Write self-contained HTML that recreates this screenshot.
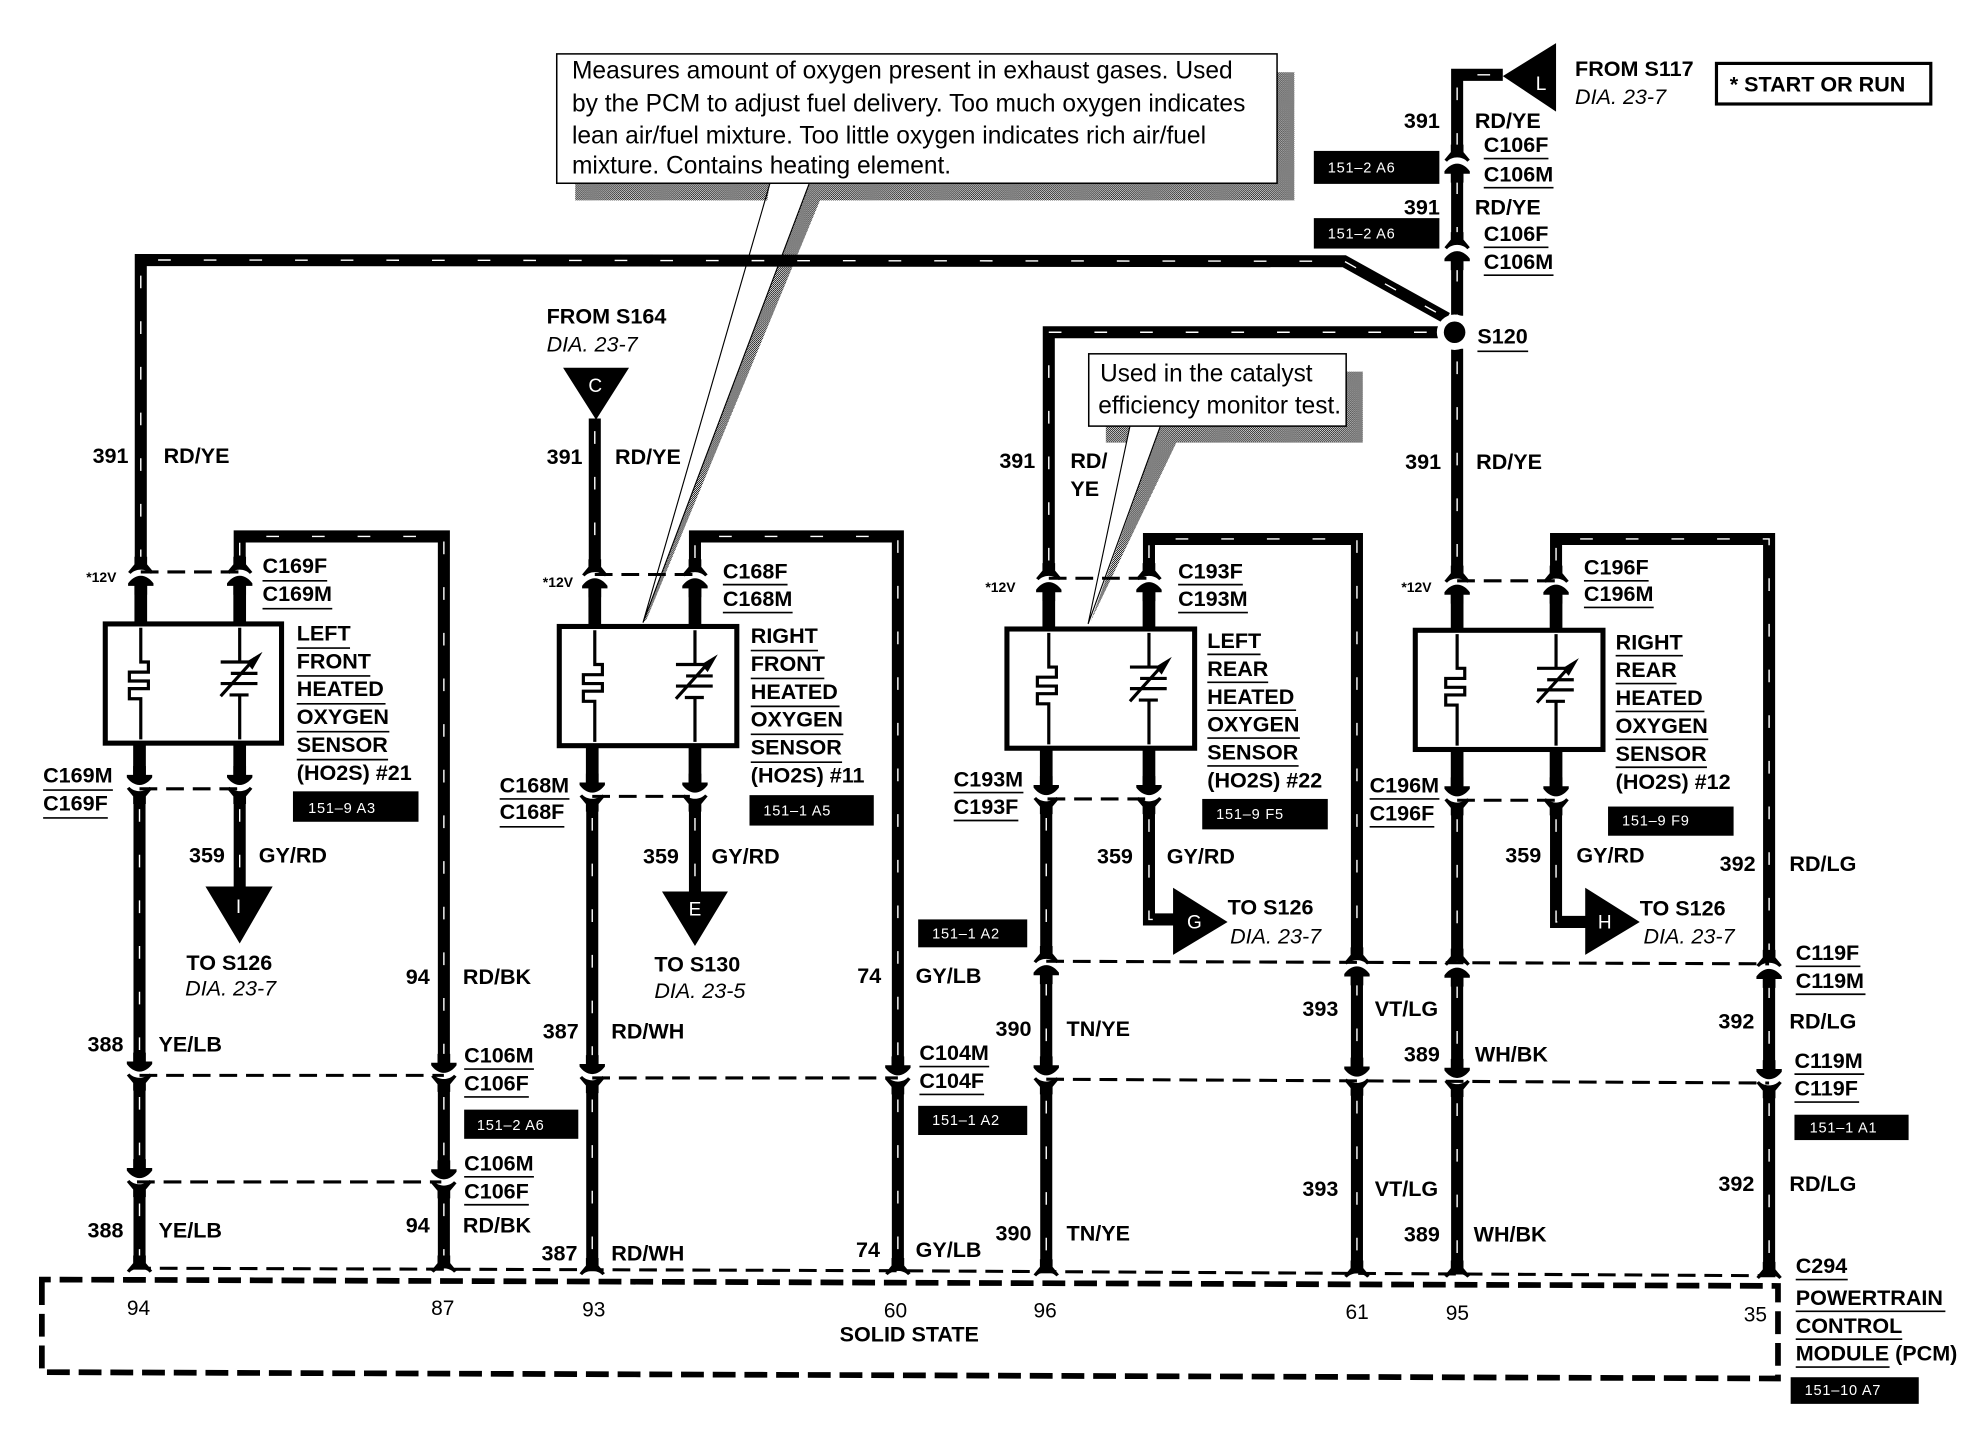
<!DOCTYPE html>
<html><head><meta charset="utf-8">
<style>
html,body{margin:0;padding:0;background:#fff}
svg{display:block}
text{font-family:"Liberation Sans",sans-serif;fill:#000}
.b{font-size:17px;font-weight:700}
.n{font-size:16.5px}
.i{font-size:17px;font-style:italic}
.c{font-size:20px}
.s{font-size:11px;font-weight:700}
.w{font-size:11.5px;fill:#fff;letter-spacing:.6px}
.l{font-size:15px;fill:#fff}
</style></head><body>
<svg width="1988" height="1440" viewBox="0 0 1567.6 1135.5" xmlns="http://www.w3.org/2000/svg">
<defs>
<pattern id="dith" width="1.6" height="1.6" patternUnits="userSpaceOnUse"><rect width="1.6" height="1.6" fill="#fff"/><rect width=".8" height=".8" fill="#000"/><rect x=".8" y=".8" width=".8" height=".8" fill="#000"/></pattern>
<g id="cup"><path d="M-10,0 L-5,-6 L-5,-12 L5,-12 L5,-6 L10,0 L8,1.5 C4,-3 -4,-3 -8,1.5 Z" fill="#000"/></g>
<g id="cu"><use href="#cup"/><path d="M0,3 C4,3 8,6 10,9 L10,11 L5,11 L5,18 L-5,18 L-5,11 L-10,11 L-10,9 C-8,6 -4,3 0,3 Z" fill="#000"/></g>
<g id="sens" fill="none" stroke="#000" stroke-width="2.5">
<path d="M0,3 V30 H6 V38 H-9 V45 H6 V51 H-9 V59 H0 V91"/>
</g>
<g id="res" fill="none" stroke="#000" stroke-width="2.5">
<path d="M0,3 V30 M-15,30 H8 M-7,39 H14 M-15,47 H14 M-8,56 H7 M0,56 V91 M-15,57 L12,27"/>
<path d="M18,22 L5,30 L10,36 Z" fill="#000" stroke="none"/>
</g>
<g id="wires">
<path d="M1185,59 L1149,59 L1149,122 M1149,133 L1149,190 M1149,202 L1149,249"/>
<path d="M1141,251 L1060,206 L111,205 L111,448"/>
<path d="M1135,262 L827,262 L827,450"/>
<path d="M1149,275 L1149,452"/>
<path d="M189,448 L189,423 L350,423 L350,842 M350,855 L350,926 M350,939 L350,1000"/>
<path d="M110,628 L110,842 M110,855 L110,926 M110,939 L110,1000"/>
<path d="M189,628 L189,702"/>
<path d="M469,330 L469,450"/>
<path d="M548,450 L548,423 L708,423 L708,845 M708,857 L708,1002"/>
<path d="M467,635 L467,845 M467,857 L467,1002"/>
<path d="M548,635 L548,705"/>
<path d="M906,450 L906,425 L1070,425 L1070,752 M1070,765 L1070,846 M1070,858 L1070,1004"/>
<path d="M825,635 L825,752 M825,765 L825,846 M825,858 L825,1004"/>
<path d="M906,636 L906,725 L927,725"/>
<path d="M1227,452 L1227,425 L1395,425 L1395,754 M1395,767 L1395,848 M1395,860 L1395,1005"/>
<path d="M1149,636 L1149,754 M1149,767 L1149,848 M1149,860 L1149,1005"/>
<path d="M1227,636 L1227,727 L1252,727"/>
</g>
</defs>

<rect width="1567.6" height="1135.5" fill="#fff"/>

<!-- callout shadows -->
<path d="M1007,57 H1020.6 V158 H646.6 L510,488 L507,491 L638,145 H607 L605,158 H453.6 V144.5 H1007 Z" fill="url(#dith)"/>
<path d="M1061.5,293 H1074.6 V349 H927.6 L860,490 L915,336 H891 L888,349 H872 V336 H1061.5 Z" fill="url(#dith)"/>
<path d="M607,145 L507,491 L638,145" fill="none" stroke="#000" stroke-width=".9"/>
<path d="M891,336 L858,492 L915,336" fill="none" stroke="#000" stroke-width=".9"/>

<!-- dashed connector lines -->
<g fill="none" stroke="#000" stroke-width="2.4" stroke-dasharray="14 7">
<path d="M111,451 H189 M110,622 H189 M110,848 H350 M108,932 H348"/>
<path d="M469,453 H548 M467,628 H547 M467,850 H708"/>
<path d="M827,456 H906 M826,630 H906 M825,758 L1395,760 M825,851 L1395,854"/>
<path d="M1149,458 H1227 M1149,631 H1227"/>
<path d="M105,1000 L700,1002 L1400,1006"/>
</g>

<!-- PCM box -->
<path d="M33,1020 V1009 H45 L1402,1014 V1087 L33,1082 V1020" fill="none" stroke="#000" stroke-width="4.5" stroke-dasharray="18 7"/>

<!-- wires -->
<use href="#wires" fill="none" stroke="#000" stroke-width="9.5" stroke-linejoin="miter"/>
<use href="#wires" fill="none" stroke="#fff" stroke-width="1.1" stroke-dasharray="10 26" stroke-dashoffset="-10"/>
<path d="M111,458 V492 M189,458 V492 M110,586 V615 M189,586 V615 M469,460 V495 M548,460 V495 M467,588 V622 M548,588 V622 M827,462 V497 M906,462 V497 M825,590 V625 M906,590 V625 M1149,464 V499 M1227,464 V499 M1149,591 V625 M1227,591 V625" fill="none" stroke="#000" stroke-width="10"/>

<!-- connectors -->
<use href="#cu" transform="translate(1149,126)"/><use href="#cu" transform="translate(1149,195)"/>
<use href="#cu" transform="translate(111,451)"/><use href="#cu" transform="translate(189,451)"/>
<use href="#cu" transform="translate(469,453)"/><use href="#cu" transform="translate(548,453)"/>
<use href="#cu" transform="translate(827,456)"/><use href="#cu" transform="translate(906,456)"/>
<use href="#cu" transform="translate(1149,458)"/><use href="#cu" transform="translate(1227,458)"/>
<use href="#cu" transform="translate(825,758)"/><use href="#cu" transform="translate(1070,759)"/><use href="#cu" transform="translate(1149,760)"/><use href="#cu" transform="translate(1395,761)"/>
<g>
<use href="#cu" transform="translate(110,622) scale(1,-1)"/><use href="#cu" transform="translate(189,622) scale(1,-1)"/>
<use href="#cu" transform="translate(467,628) scale(1,-1)"/><use href="#cu" transform="translate(548,628) scale(1,-1)"/>
<use href="#cu" transform="translate(825,630) scale(1,-1)"/><use href="#cu" transform="translate(906,630) scale(1,-1)"/>
<use href="#cu" transform="translate(1149,631) scale(1,-1)"/><use href="#cu" transform="translate(1227,631) scale(1,-1)"/>
<use href="#cu" transform="translate(110,848) scale(1,-1)"/><use href="#cu" transform="translate(350,849) scale(1,-1)"/>
<use href="#cu" transform="translate(110,932) scale(1,-1)"/><use href="#cu" transform="translate(350,933) scale(1,-1)"/>
<use href="#cu" transform="translate(467,850) scale(1,-1)"/><use href="#cu" transform="translate(708,851) scale(1,-1)"/>
<use href="#cu" transform="translate(825,851) scale(1,-1)"/><use href="#cu" transform="translate(1070,852) scale(1,-1)"/>
<use href="#cu" transform="translate(1149,853) scale(1,-1)"/><use href="#cu" transform="translate(1395,854) scale(1,-1)"/>
</g>
<use href="#cup" transform="translate(110,1002)"/><use href="#cup" transform="translate(350,1002)"/>
<use href="#cup" transform="translate(467,1004)"/><use href="#cup" transform="translate(708,1004)"/>
<use href="#cup" transform="translate(825,1005)"/><use href="#cup" transform="translate(1070,1006)"/>
<use href="#cup" transform="translate(1149,1006)"/><use href="#cup" transform="translate(1395,1007)"/>

<!-- sensor boxes -->
<rect x="83" y="492" width="139" height="94" fill="#fff" stroke="#000" stroke-width="4"/>
<use href="#sens" transform="translate(111,492)"/><use href="#res" transform="translate(189,492)"/>
<rect x="441" y="494" width="140" height="94" fill="#fff" stroke="#000" stroke-width="4"/>
<use href="#sens" transform="translate(469,494)"/><use href="#res" transform="translate(548,494)"/>
<rect x="794" y="496" width="148" height="94" fill="#fff" stroke="#000" stroke-width="4"/>
<use href="#sens" transform="translate(827,496)"/><use href="#res" transform="translate(906,496)"/>
<rect x="1116" y="497" width="148" height="94" fill="#fff" stroke="#000" stroke-width="4"/>
<use href="#sens" transform="translate(1149,497)"/><use href="#res" transform="translate(1227,497)"/>

<!-- flags -->
<path d="M1185,60 L1227,34 L1227,88 Z M162,699 H215 L189,744 Z M444,290 H496 L470,331 Z M522,703 H574 L548,746 Z M925,700 V753 L968,727 Z M1250,700 V753 L1293,727 Z"/>
<text class="l" x="1211" y="71">L</text>
<text class="l" x="186" y="720">I</text>
<text class="l" x="464" y="309">C</text>
<text class="l" x="543" y="722">E</text>
<text class="l" x="936" y="732">G</text>
<text class="l" x="1260" y="732">H</text>

<!-- S120 -->
<circle cx="1147" cy="262" r="14" fill="#fff"/><circle cx="1147" cy="262" r="8.5" fill="#000"/>

<!-- callouts -->
<rect x="439" y="42.5" width="568" height="102" fill="#fff" stroke="#000" stroke-width="1.2"/>
<path d="M608,146 H637 L634,150 H611 Z" fill="#fff"/>
<text class="c" x="451" y="62" textLength="521" lengthAdjust="spacingAndGlyphs">Measures amount of oxygen present in exhaust gases. Used</text>
<text class="c" x="451" y="88" textLength="531" lengthAdjust="spacingAndGlyphs">by the PCM to adjust fuel delivery. Too much oxygen indicates</text>
<text class="c" x="451" y="113" textLength="500" lengthAdjust="spacingAndGlyphs">lean air/fuel mixture. Too little oxygen indicates rich air/fuel</text>
<text class="c" x="451" y="137" textLength="299" lengthAdjust="spacingAndGlyphs">mixture. Contains heating element.</text>
<rect x="858.5" y="279" width="203" height="57" fill="#fff" stroke="#000" stroke-width="1.2"/>
<text class="c" x="867.5" y="301" textLength="167.5" lengthAdjust="spacingAndGlyphs">Used in the catalyst</text>
<text class="c" x="866" y="326" textLength="191.5" lengthAdjust="spacingAndGlyphs">efficiency monitor test.</text>

<!-- badges -->
<g fill="#000">
<rect x="1036" y="119" width="99" height="26"/><rect x="1036" y="172" width="99" height="24"/>
<rect x="231" y="624" width="99" height="24"/><rect x="591" y="627" width="98" height="24"/>
<rect x="948" y="630" width="99" height="24"/><rect x="1268" y="636" width="99" height="23"/>
<rect x="724" y="725" width="86" height="22"/><rect x="724" y="872" width="86" height="23"/>
<rect x="366" y="875" width="90" height="23"/><rect x="1415" y="879" width="90" height="20"/>
<rect x="1412" y="1086" width="101" height="21"/>
</g>
<text class="w" x="1047" y="136">151–2 A6</text><text class="w" x="1047" y="188">151–2 A6</text>
<text class="w" x="243" y="641">151–9 A3</text><text class="w" x="602" y="643">151–1 A5</text>
<text class="w" x="959" y="646">151–9 F5</text><text class="w" x="1279" y="651">151–9 F9</text>
<text class="w" x="735" y="740">151–1 A2</text><text class="w" x="735" y="887">151–1 A2</text>
<text class="w" x="376" y="891">151–2 A6</text><text class="w" x="1427" y="893">151–1 A1</text>
<text class="w" x="1423" y="1100">151–10 A7</text>

<!-- underlines -->
<path fill="none" stroke="#000" stroke-width="1.3" d="
M207,458h51M207,480h55M234,511h42M234,533h58M234,555h70M234,577h73M234,599h72M34,623h55M34,645h51M366,843h55M366,865h51M366,928h55M366,950h51
M570,461h51M570,483h55M592,513h53M592,535h58M592,557h70M592,579h73M592,601h72M394,630h55M394,652h51M725,841h55M725,863h51
M929,461h51M929,483h55M952,516h42M952,538h48M952,560h70M952,582h73M952,604h72M752,625h55M752,647h51
M1249,458h51M1249,479h55M1274,517h53M1274,539h48M1274,561h70M1274,583h73M1274,605h72M1080,630h55M1080,652h51
M1416,762h51M1416,784h55M1415,847h55M1415,869h51M1416,1009h41M1416,1034h118M1416,1056h84M1416,1078h74
M1170,125h51M1170,148h55M1170,195h51M1170,217h55M1165,277h40"/>

<!-- top labels -->
<g class="b">
<text x="1107" y="101">391</text><text x="1163" y="101">RD/YE</text><text x="1170" y="120">C106F</text><text x="1170" y="143">C106M</text>
<text x="1107" y="169">391</text><text x="1163" y="169">RD/YE</text><text x="1170" y="190">C106F</text><text x="1170" y="212">C106M</text>
<text x="1165" y="271">S120</text><text x="1242" y="60">FROM S117</text>
<text x="431" y="255">FROM S164</text>
<text x="1364" y="72">* START OR RUN</text>
</g>
<text class="i" x="1242" y="82">DIA. 23-7</text>
<text class="i" x="431" y="277">DIA. 23-7</text>
<rect x="1353.5" y="50" width="169" height="32" fill="none" stroke="#000" stroke-width="2.5"/>

<!-- sensor 1 -->
<g class="b">
<text x="73" y="365">391</text><text x="129" y="365">RD/YE</text>
<text x="207" y="452">C169F</text><text x="207" y="474">C169M</text>
<text x="234" y="505">LEFT</text><text x="234" y="527">FRONT</text><text x="234" y="549">HEATED</text><text x="234" y="571">OXYGEN</text><text x="234" y="593">SENSOR</text><text x="234" y="615">(HO2S) #21</text>
<text x="34" y="617">C169M</text><text x="34" y="639">C169F</text>
<text x="149" y="680">359</text><text x="204" y="680">GY/RD</text>
<text x="147" y="765">TO S126</text>
<text x="69" y="829">388</text><text x="125" y="829">YE/LB</text>
<text x="320" y="776">94</text><text x="365" y="776">RD/BK</text>
<text x="366" y="838">C106M</text><text x="366" y="860">C106F</text>
<text x="366" y="923">C106M</text><text x="366" y="945">C106F</text>
<text x="69" y="976">388</text><text x="125" y="976">YE/LB</text>
<text x="320" y="972">94</text><text x="365" y="972">RD/BK</text>
</g>
<text class="s" x="68" y="459">*12V</text>
<text class="i" x="146" y="785">DIA. 23-7</text>

<!-- sensor 2 -->
<g class="b">
<text x="431" y="366">391</text><text x="485" y="366">RD/YE</text>
<text x="570" y="456">C168F</text><text x="570" y="478">C168M</text>
<text x="592" y="507">RIGHT</text><text x="592" y="529">FRONT</text><text x="592" y="551">HEATED</text><text x="592" y="573">OXYGEN</text><text x="592" y="595">SENSOR</text><text x="592" y="617">(HO2S) #11</text>
<text x="394" y="625">C168M</text><text x="394" y="646">C168F</text>
<text x="507" y="681">359</text><text x="561" y="681">GY/RD</text>
<text x="516" y="766">TO S130</text>
<text x="428" y="819">387</text><text x="482" y="819">RD/WH</text>
<text x="676" y="775">74</text><text x="722" y="775">GY/LB</text>
<text x="725" y="836">C104M</text><text x="725" y="858">C104F</text>
<text x="427" y="994">387</text><text x="482" y="994">RD/WH</text>
<text x="675" y="991">74</text><text x="722" y="991">GY/LB</text>
</g>
<text class="s" x="428" y="463">*12V</text>
<text class="i" x="516" y="787">DIA. 23-5</text>

<!-- sensor 3 -->
<g class="b">
<text x="788" y="369">391</text><text x="844" y="369">RD/</text><text x="844" y="391">YE</text>
<text x="929" y="456">C193F</text><text x="929" y="478">C193M</text>
<text x="952" y="511">LEFT</text><text x="952" y="533">REAR</text><text x="952" y="555">HEATED</text><text x="952" y="577">OXYGEN</text><text x="952" y="599">SENSOR</text><text x="952" y="621">(HO2S) #22</text>
<text x="752" y="620">C193M</text><text x="752" y="642">C193F</text>
<text x="865" y="681">359</text><text x="920" y="681">GY/RD</text>
<text x="968" y="721">TO S126</text>
<text x="785" y="817">390</text><text x="841" y="817">TN/YE</text>
<text x="785" y="978">390</text><text x="841" y="978">TN/YE</text>
<text x="1027" y="801">393</text><text x="1084" y="801">VT/LG</text>
<text x="1027" y="943">393</text><text x="1084" y="943">VT/LG</text>
</g>
<text class="s" x="777" y="467">*12V</text>
<text class="i" x="970" y="744">DIA. 23-7</text>

<!-- sensor 4 -->
<g class="b">
<text x="1108" y="370">391</text><text x="1164" y="370">RD/YE</text>
<text x="1249" y="453">C196F</text><text x="1249" y="474">C196M</text>
<text x="1274" y="512">RIGHT</text><text x="1274" y="534">REAR</text><text x="1274" y="556">HEATED</text><text x="1274" y="578">OXYGEN</text><text x="1274" y="600">SENSOR</text><text x="1274" y="622">(HO2S) #12</text>
<text x="1080" y="625">C196M</text><text x="1080" y="647">C196F</text>
<text x="1187" y="680">359</text><text x="1243" y="680">GY/RD</text>
<text x="1293" y="722">TO S126</text>
<text x="1107" y="837">389</text><text x="1163" y="837">WH/BK</text>
<text x="1107" y="979">389</text><text x="1162" y="979">WH/BK</text>
<text x="1356" y="687">392</text><text x="1411" y="687">RD/LG</text>
<text x="1416" y="757">C119F</text><text x="1416" y="779">C119M</text>
<text x="1355" y="811">392</text><text x="1411" y="811">RD/LG</text>
<text x="1415" y="842">C119M</text><text x="1415" y="864">C119F</text>
<text x="1355" y="939">392</text><text x="1411" y="939">RD/LG</text>
<text x="1416" y="1004">C294</text><text x="1416" y="1029">POWERTRAIN</text><text x="1416" y="1051">CONTROL</text><text x="1416" y="1073">MODULE (PCM)</text>
</g>
<text class="s" x="1105" y="467">*12V</text>
<text class="i" x="1296" y="744">DIA. 23-7</text>

<!-- pins -->
<g class="n">
<text x="100" y="1037">94</text><text x="340" y="1037">87</text><text x="459" y="1038">93</text><text x="697" y="1039">60</text>
<text x="815" y="1039">96</text><text x="1061" y="1040">61</text><text x="1140" y="1041">95</text><text x="1375" y="1042">35</text>
</g>
<text class="b" x="717" y="1058" text-anchor="middle">SOLID STATE</text>
</svg>
</body></html>
